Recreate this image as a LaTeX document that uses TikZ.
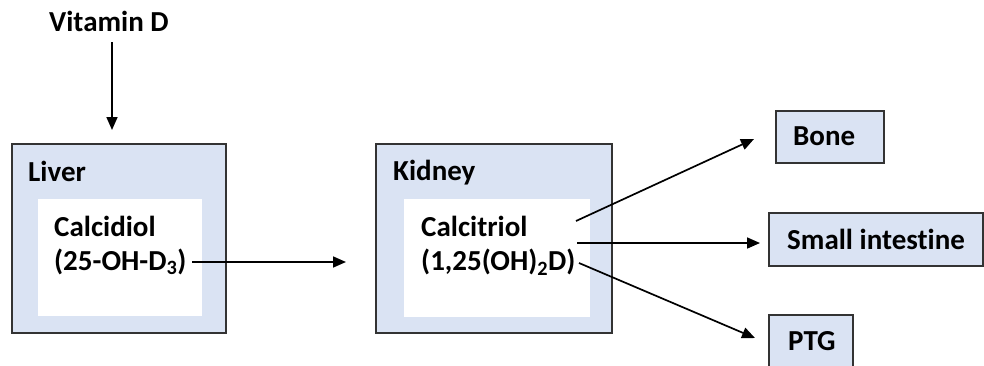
\documentclass[tikz,border=0pt]{standalone}
\usepackage{fontspec}
\setmainfont{Carlito}[Ligatures=NoCommon]
\usetikzlibrary{arrows.meta}
\definecolor{boxblue}{HTML}{DAE3F3}
\definecolor{boxline}{HTML}{333333}
\tikzset{
  organ/.style={draw=boxline, fill=boxblue, line width=1.7pt, inner sep=0pt, rectangle},
  inner/.style={fill=white, draw=none, inner sep=0pt, rectangle},
  lbl/.style={font=\fontsize{29}{34}\selectfont\bfseries, inner sep=0pt, anchor=base west, align=left},
  arr/.style={line width=1.7pt, -{Triangle[length=13pt,width=11pt]}},
}
\begin{document}
\begin{tikzpicture}[x=1pt,y=-1pt]
\useasboundingbox (0,0) rectangle (984,365);
\clip (0,0) rectangle (984,365);
\fill[white] (0,0) rectangle (984,365);
% boxes
\node[organ, minimum width=214pt, minimum height=189pt] (liver) at (119,238.5) {};
\node[inner, minimum width=164pt, minimum height=117pt] (liverin) at (120,257.5) {};
\node[organ, minimum width=236pt, minimum height=189pt] (kidney) at (494,238.5) {};
\node[inner, minimum width=186pt, minimum height=118pt] (kidneyin) at (497,258) {};
\node[organ, minimum width=108pt, minimum height=52pt] (bone) at (830,137) {};
\node[organ, minimum width=214pt, minimum height=53pt] (intest) at (876,239.5) {};
\node[organ, minimum width=84pt, minimum height=70pt] (ptg) at (811,350) {};
% texts
\node[lbl] (vit) at (49,31) {Vitamin D};
\node[lbl] (livert) at (28,181) {Liver};
\node[lbl] (calc1) at (54,236) {Calcidiol};
\node[lbl] (calc2) at (54,270) {(25-OH-D\textsubscript{3})};
\node[lbl] (kidt) at (393,180) {Kidney};
\node[lbl] (calt1) at (421,236) {Calcitriol};
\node[lbl] (calt2) at (421,270.5) {(1,25(OH)\textsubscript{2}D)};
\node[lbl] (bonet) at (793,145) {Bone};
\node[lbl] (intt) at (787,249) {Small intestine};
\node[lbl] (ptgt) at (788,350) {PTG};
% connector end points
\coordinate (v0) at (112,42);
\coordinate (v1) at (112,130);
\coordinate (m0) at (192,262);
\coordinate (m1) at (346,262);
\coordinate (b0) at (576,221);
\coordinate (b1) at (754,139);
\coordinate (s0) at (577,243);
\coordinate (s1) at (760,243);
\coordinate (p0) at (579,263);
\coordinate (p1) at (755,338);
% connectors
\draw[arr] (v0) -- (v1);
\draw[arr] (m0) -- (m1);
\draw[arr] (b0) -- (b1);
\draw[arr] (s0) -- (s1);
\draw[arr] (p0) -- (p1);
\end{tikzpicture}
\end{document}
